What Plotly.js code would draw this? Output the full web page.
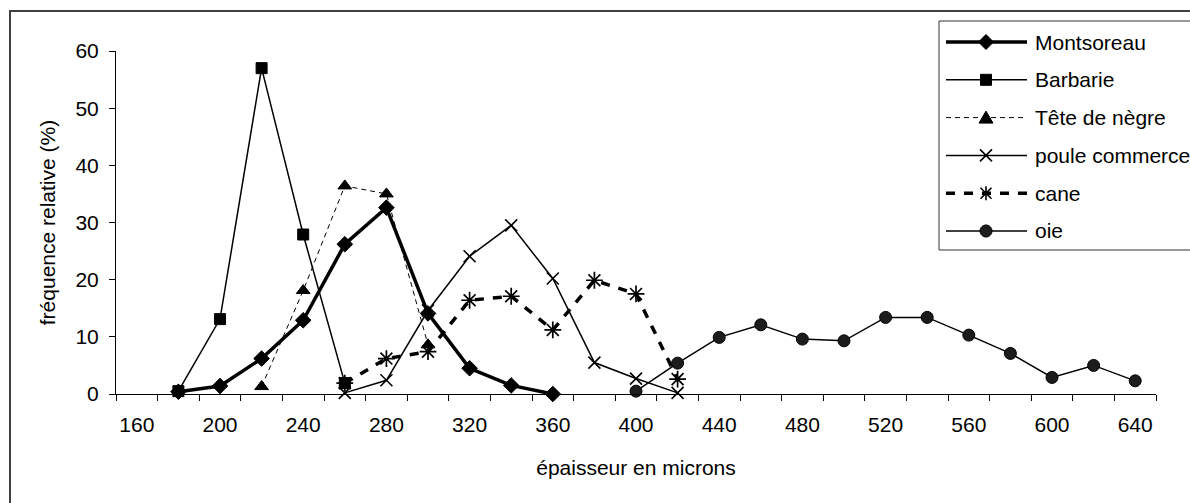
<!DOCTYPE html>
<html>
<head>
<meta charset="utf-8">
<script src="https://cdn.plot.ly/plotly-3.0.1.min.js"></script>
<style>html,body{margin:0;padding:0;background:#fff;}#chart{width:1190px;height:503px;}</style>
</head>
<body>
<div id="chart"></div>
<script>
// ---- data ----
const thickness = [160,180,200,220,240,260,280,300,320,340,360,380,400,420,440,460,480,500,520,540,560,580,600,620,640];
const xTickVals = [160,200,240,280,320,360,400,440,480,520,560,600,640];
const xTickLabels = ['160','200','240','280','320','360','400','440','480','520','560','600','640'];
const yTickVals = [0,10,20,30,40,50,60];
const seriesNames = ['Montsoreau','Barbarie','Tête de nègre','poule commerce','cane','oie'];
const montsoreau = [null,0.4,1.4,6.2,12.9,26.2,32.6,14.1,4.5,1.5,0,null,null,null,null,null,null,null,null,null,null,null,null,null,null];
const barbarie   = [null,0.5,13.1,57.0,27.9,1.9,null,null,null,null,null,null,null,null,null,null,null,null,null,null,null,null,null,null,null];
const teteNegre  = [null,null,null,1.3,18.1,36.4,35.0,8.6,null,null,null,null,null,null,null,null,null,null,null,null,null,null,null,null,null];
const poule      = [null,null,null,null,null,0.2,2.4,14.6,24.1,29.5,20.2,5.5,2.7,0.2,null,null,null,null,null,null,null,null,null,null,null];
const cane       = [null,null,null,null,null,1.9,6.2,7.4,16.4,17.1,11.2,19.9,17.5,2.6,null,null,null,null,null,null,null,null,null,null,null];
const oie        = [null,null,null,null,null,null,null,null,null,null,null,null,0.5,5.4,9.9,12.1,9.6,9.3,13.4,13.4,10.3,7.1,2.9,5.0,2.3];
const seriesValues = [montsoreau, barbarie, teteNegre, poule, cane, oie];

// ---- styles ----
const FONT = 'Liberation Sans, Arial, sans-serif';
const FS = 21;
const styles = [
  {line:{color:'#000',width:3.5}, marker:{symbol:'diamond',size:12,color:'#000',line:{color:'#000',width:1}}},
  {line:{color:'#000',width:1.5}, marker:{symbol:'square',size:11,color:'#000',line:{color:'#000',width:1}}},
  {line:{color:'#000',width:1,dash:'5px,4px'}, marker:{symbol:'triangle-up',size:12,color:'#000',line:{color:'#000',width:1}}},
  {line:{color:'#000',width:1.5}, marker:{symbol:'x-thin-open',size:12,color:'#000',line:{color:'#000',width:1.6}}},
  {line:{color:'#000',width:3.5,dash:'9px,9px'}, marker:{symbol:'asterisk-open',size:14,color:'#000',line:{color:'#000',width:1.7}}},
  {line:{color:'#000',width:1.5}, marker:{symbol:'circle',size:12,color:'#1c1c1c',line:{color:'#000',width:1}}}
];

const traces = seriesNames.map((n,i)=>({
  type:'scatter', mode:'lines+markers', name:n, x:thickness, y:seriesValues[i],
  line:styles[i].line, marker:styles[i].marker, showlegend:false, connectgaps:false,
  cliponaxis:false
}));

// ---- layout geometry (pixels) ----
const W=1190, H=503, L=116, R=34, T=51, B=109;
const PW=W-L-R, PH=H-T-B;
const px = v => (v-L)/PW;
const py = v => (H-B-v)/PH;

const shapes = [];
const annotations = [];
// outer chart border (right and bottom edges lie outside the picture)
shapes.push({type:'path', xref:'paper', yref:'paper',
  path:`M${px(1195)},${py(11)} L${px(10)},${py(11)} L${px(10)},${py(510)}`,
  line:{color:'#404040',width:2}, layer:'below'});
// legend box
shapes.push({type:'rect', xref:'paper', yref:'paper', x0:px(939), y0:py(21), x1:px(1196), y1:py(250),
  line:{color:'#333',width:1}, fillcolor:'#fff', layer:'above'});

const k = 6*0.5523;
const markerPaths = [
  'M-7.5,0L0,7.5L7.5,0L0,-7.5Z',
  'M-5.5,-5.5H5.5V5.5H-5.5Z',
  'M-7,-5.5L7,-5.5L0,6.5Z',
  'M-6,-6L6,6M-6,6L6,-6',
  'M-5.5,-5.5L5.5,5.5M-5.5,5.5L5.5,-5.5M0,-7V7',
  `M6,0C6,${k} ${k},6 0,6C-${k},6 -6,${k} -6,0C-6,-${k} -${k},-6 0,-6C${k},-6 6,-${k} 6,0Z`
];
const filled = [true,true,true,false,false,true];
for (let i=0;i<6;i++){
  const yy = 42 + i*37.8;
  const st = styles[i];
  shapes.push({type:'line', xref:'paper', yref:'paper', x0:px(946), x1:px(1027), y0:py(yy), y1:py(yy),
    line:{color:'#000', width:st.line.width, dash:st.line.dash||'solid'}, layer:'above'});
  shapes.push({type:'path', xref:'paper', yref:'paper', xsizemode:'pixel', ysizemode:'pixel',
    xanchor:px(986), yanchor:py(yy), path:markerPaths[i],
    fillcolor: filled[i] ? (i===5?'#1c1c1c':'#000') : 'rgba(0,0,0,0)',
    line:{color:'#000', width: filled[i]?1:1.6}, layer:'above'});
  annotations.push({xref:'paper', yref:'paper', x:px(1033), y:py(yy), xanchor:'left', yanchor:'middle',
    text:seriesNames[i], showarrow:false, font:{family:FONT,size:FS,color:'#000'}});
}

const layout = {
  width:W, height:H,
  margin:{l:L, r:R, t:T, b:B, pad:0},
  paper_bgcolor:'#fff', plot_bgcolor:'#fff',
  font:{family:FONT, size:FS, color:'#000'},
  showlegend:false,
  xaxis:{
    range:[150,650], tickmode:'array', tickvals:xTickVals, ticktext:xTickLabels,
    ticks:'', showgrid:false, zeroline:false, showline:true, linecolor:'#000', linewidth:1,
    tickfont:{family:FONT,size:FS,color:'#000'}, ticklabelstandoff:12,
    minor:{tickmode:'linear', tick0:150, dtick:20, ticks:'outside', ticklen:6, tickcolor:'#000', tickwidth:1, showgrid:false},
    title:{text:'épaisseur en microns', font:{family:FONT,size:FS,color:'#000'}, standoff:25}
  },
  yaxis:{
    range:[0,60], tickmode:'array', tickvals:yTickVals, ticks:'outside', ticklen:6, tickcolor:'#000',
    showgrid:false, zeroline:false, showline:true, linecolor:'#000', linewidth:1,
    tickfont:{family:FONT,size:FS,color:'#000'}, ticklabelstandoff:6,
    title:{text:'fréquence relative (%)', font:{family:FONT,size:FS,color:'#000'}, standoff:14}
  },
  shapes:shapes, annotations:annotations
};

Plotly.newPlot('chart', traces, layout, {staticPlot:true, displayModeBar:false});
</script>
</body>
</html>
